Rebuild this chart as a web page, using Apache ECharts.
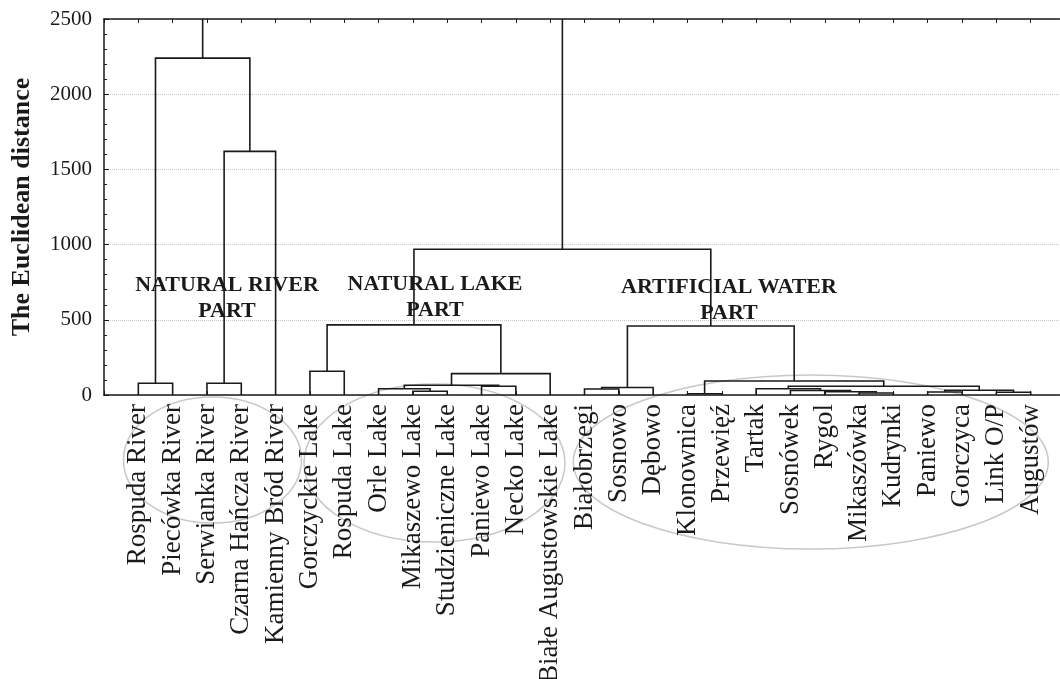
<!DOCTYPE html>
<html><head><meta charset="utf-8">
<script src="https://cdn.jsdelivr.net/npm/echarts@6/dist/echarts.min.js"></script>
<style>html,body{margin:0;padding:0;background:#fff}#c{width:1060px;height:679px}</style>
</head><body><div id="c"></div>
<script>
// Leaves in dendrogram order
const leaves = [
  'Rospuda River','Piecówka River','Serwianka River','Czarna Hańcza River','Kamienny Bród River',
  'Gorczyckie Lake','Rospuda Lake','Orle Lake','Mikaszewo Lake','Studzieniczne Lake','Paniewo Lake','Necko Lake','Białe Augustowskie Lake',
  'Białobrzegi','Sosnowo','Dębowo','Klonownica','Przewięź','Tartak','Sosnówek','Rygol','Mikaszówka','Kudrynki','Paniewo','Gorczyca','Link O/P','Augustów'
];
// Linkage rows: [childA, childB, distance]; ids < 27 are leaves, id 27+k is row k
const linkage = [
  [16, 17, 8],     // 27
  [21, 22, 13],    // 28
  [25, 26, 18],    // 29
  [23, 24, 20],    // 30
  [20, 28, 22],    // 31
  [8, 9, 25],      // 32
  [19, 31, 30],    // 33
  [30, 29, 32],    // 34
  [13, 14, 40],    // 35
  [7, 32, 42],     // 36
  [18, 33, 42],    // 37
  [35, 15, 50],    // 38
  [10, 11, 58],    // 39
  [37, 34, 58],    // 40
  [36, 39, 65],    // 41
  [0, 1, 78],      // 42
  [2, 3, 78],      // 43
  [27, 40, 93],    // 44
  [41, 12, 142],   // 45
  [5, 6, 158],     // 46
  [38, 44, 459],   // 47
  [46, 45, 466],   // 48
  [48, 47, 969],   // 49
  [43, 4, 1620],   // 50
  [42, 50, 2240],  // 51
  [51, 49, 2700]   // 52 (root, above the axis top)
];
const yTickValues = [0, 500, 1000, 1500, 2000, 2500];
const groupLabels = ['NATURAL RIVER\nPART', 'NATURAL LAKE\nPART', 'ARTIFICIAL WATER\nPART'];

// Build link segments from the linkage
const pos = leaves.map((_, i) => i + 1);
const hgt = leaves.map(() => 0);
const links = [];
linkage.forEach(([a, b, h]) => {
  links.push([pos[a], hgt[a], pos[b], hgt[b], h]);
  pos.push((pos[a] + pos[b]) / 2);
  hgt.push(h);
});

const FONT = "'Liberation Serif','Times New Roman',serif";
const INK = '#1a1a1a';
const chart = echarts.init(document.getElementById('c'));
chart.setOption({
  animation: false,
  backgroundColor: '#fff',
  grid: { left: 104, top: 19, right: -5, bottom: 284, containLabel: false, outerBoundsMode: 'none' },
  xAxis: [{
    type: 'value', min: 0, max: leaves.length + 1, interval: 1, position: 'bottom',
    axisLine: { show: true, lineStyle: { color: INK, width: 1.5 } },
    axisTick: { show: true, inside: true, length: 4, lineStyle: { color: INK } },
    splitLine: { show: false },
    axisLabel: {
      rotate: 90, margin: 9, fontFamily: FONT, fontSize: 27, color: INK,
      showMinLabel: true, showMaxLabel: true, hideOverlap: false,
      formatter: v => leaves[v - 1] || ''
    }
  }, {
    type: 'value', min: 0, max: leaves.length + 1, interval: 1, position: 'top',
    axisLine: { show: true, lineStyle: { color: INK, width: 1.5 } },
    axisTick: { show: true, inside: true, length: 4, lineStyle: { color: INK } },
    splitLine: { show: false }, axisLabel: { show: false }
  }],
  yAxis: {
    type: 'value', min: yTickValues[0], max: yTickValues[yTickValues.length - 1], interval: 500,
    name: 'The Euclidean distance', nameLocation: 'middle', nameGap: 69,
    nameTextStyle: { fontFamily: FONT, fontSize: 26, fontWeight: 'bold', color: INK },
    axisLine: { show: true, lineStyle: { color: INK, width: 1.5 } },
    axisTick: { show: true, inside: true, length: 5, lineStyle: { color: INK } },
    minorTick: { show: true, splitNumber: 5, length: 3, lineStyle: { color: INK } },
    splitLine: { show: true, lineStyle: { color: '#c8c8c8', type: 'dotted', width: 1 } },
    axisLabel: { fontFamily: FONT, fontSize: 21, color: INK, margin: 12, formatter: v => String(v) }
  },
  graphic: [
    { type: 'ellipse', z: -10, shape: { cx: 212.5, cy: 460, rx: 89, ry: 63 }, style: { fill: null, stroke: '#c8c8c8', lineWidth: 1.5 } },
    { type: 'ellipse', z: -10, shape: { cx: 434.5, cy: 463, rx: 130.5, ry: 79 }, style: { fill: null, stroke: '#c8c8c8', lineWidth: 1.5 } },
    { type: 'ellipse', z: -10, shape: { cx: 810.8, cy: 462, rx: 237.5, ry: 87 }, style: { fill: null, stroke: '#c8c8c8', lineWidth: 1.5 } },
    { type: 'text', z: 20, x: 227, y: 298, style: { text: groupLabels[0], align: 'center', verticalAlign: 'middle', font: "bold 22px " + FONT, lineHeight: 26, fill: INK } },
    { type: 'text', z: 20, x: 435, y: 297, style: { text: groupLabels[1], align: 'center', verticalAlign: 'middle', font: "bold 22px " + FONT, lineHeight: 26, fill: INK } },
    { type: 'text', z: 20, x: 729, y: 300, style: { text: groupLabels[2], align: 'center', verticalAlign: 'middle', font: "bold 22px " + FONT, lineHeight: 26, fill: INK } }
  ],
  series: [{
    type: 'custom', xAxisIndex: 0, yAxisIndex: 0, clip: true,
    data: links,
    encode: { x: [0, 2], y: [1, 3, 4] },
    renderItem: (params, api) => {
      const p1 = api.coord([api.value(0), api.value(1)]);
      const p2 = api.coord([api.value(0), api.value(4)]);
      const p3 = api.coord([api.value(2), api.value(4)]);
      const p4 = api.coord([api.value(2), api.value(3)]);
      return { type: 'polyline', shape: { points: [p1, p2, p3, p4] }, style: { stroke: INK, lineWidth: 1.6, fill: null } };
    }
  }]
});
</script>
</body></html>
